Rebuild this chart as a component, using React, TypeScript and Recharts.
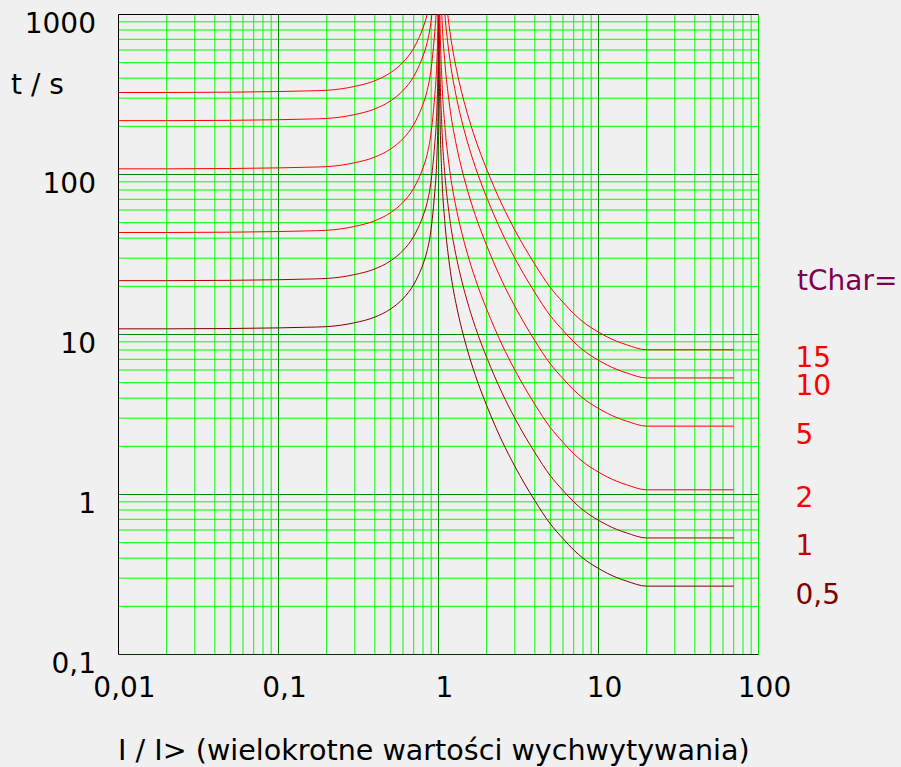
import React from "react";
import { LineChart, Line, XAxis, YAxis, ReferenceLine, ReferenceDot } from "recharts";

// I / I> values (x axis, log)
const CURRENT = [
  0.01, 0.02, 0.05, 0.1, 0.15, 0.2, 0.3, 0.4, 0.5, 0.6, 0.7, 0.75, 0.8, 0.85, 0.9, 0.93, 0.95, 0.966, 0.98, 0.99, 0.995, 0.999,
  1.001, 1.005, 1.01, 1.02, 1.05, 1.1, 1.15, 1.2, 1.3, 1.4, 1.5, 1.7, 2, 2.5, 3, 4, 5, 6, 7, 8, 10, 13, 15, 20, 70,
];

// t / s for each tChar curve
const T_CHAR_05 = [
  10.85, 10.85, 10.9, 11.0, 11.1, 11.2, 11.85, 12.85, 14.4, 16.75, 20.5, 23.5, 27.5, 33.5, 46, 62.5, 80, 100, 140, 200, 300, 1250,
  5000, 1000, 500, 250, 98.5, 48, 31.5, 23, 14.85, 10.75, 8.3, 5.55, 3.6, 2.15, 1.5, 0.915, 0.655, 0.53, 0.45, 0.4, 0.345, 0.3025, 0.2875, 0.2675, 0.2675,
];
const T_CHAR_1 = [
  21.7, 21.7, 21.8, 22.0, 22.2, 22.4, 23.7, 25.7, 28.8, 33.5, 41, 47, 55, 67, 92, 125, 160, 200, 280, 400, 600, 2500,
  10000, 2000, 1000, 500, 197, 96, 63, 46, 29.7, 21.5, 16.6, 11.1, 7.2, 4.3, 3.0, 1.83, 1.31, 1.06, 0.9, 0.8, 0.69, 0.605, 0.575, 0.535, 0.535,
];
const T_CHAR_2 = [
  43.4, 43.4, 43.6, 44, 44.4, 44.8, 47.4, 51.4, 57.6, 67, 82, 94, 110, 134, 184, 250, 320, 400, 560, 800, 1200, 5000,
  20000, 4000, 2000, 1000, 394, 192, 126, 92, 59.4, 43, 33.2, 22.2, 14.4, 8.6, 6.0, 3.66, 2.62, 2.12, 1.8, 1.6, 1.38, 1.21, 1.15, 1.07, 1.07,
];
const T_CHAR_5 = [
  108.5, 108.5, 109, 110, 111, 112, 118.5, 128.5, 144, 167.5, 205, 235, 275, 335, 460, 625, 800, 1000, 1400, 2000, 3000, 12500,
  50000, 10000, 5000, 2500, 985, 480, 315, 230, 148.5, 107.5, 83, 55.5, 36, 21.5, 15, 9.15, 6.55, 5.3, 4.5, 4.0, 3.45, 3.025, 2.875, 2.675, 2.675,
];
const T_CHAR_10 = [
  217, 217, 218, 220, 222, 224, 237, 257, 288, 335, 410, 470, 550, 670, 920, 1250, 1600, 2000, 2800, 4000, 6000, 25000,
  100000, 20000, 10000, 5000, 1970, 960, 630, 460, 297, 215, 166, 111, 72, 43, 30, 18.3, 13.1, 10.6, 9.0, 8.0, 6.9, 6.05, 5.75, 5.35, 5.35,
];
const T_CHAR_15 = [
  325.5, 325.5, 327, 330, 333, 336, 355.5, 385.5, 432, 502.5, 615, 705, 825, 1005, 1380, 1875, 2400, 3000, 4200, 6000, 9000, 37500,
  150000, 30000, 15000, 7500, 2955, 1440, 945, 690, 445.5, 322.5, 249, 166.5, 108, 64.5, 45, 27.45, 19.65, 15.9, 13.5, 12.0, 10.35, 9.075, 8.625, 8.025, 8.025,
];

const SERIES_KEYS = ["t05", "t1", "t2", "t5", "t10", "t15"];
const SERIES_VALUES = [T_CHAR_05, T_CHAR_1, T_CHAR_2, T_CHAR_5, T_CHAR_10, T_CHAR_15];
const SERIES_LABELS = ["0,5", "1", "2", "5", "10", "15"];
const SERIES_COLORS = ["#800000", "#b00000", "#ff0000", "#ff0000", "#ff0000", "#ff0000"];
const LABEL_COLORS = ["#800000", "#c00000", "#ff0000", "#ff0000", "#ff0000", "#ff0000"];

const X_TICKS = [0.01, 0.1, 1, 10, 100];
const X_TICK_LABELS = ["0,01", "0,1", "1", "10", "100"];
const Y_TICKS = [0.1, 1, 10, 100, 1000];
const Y_TICK_LABELS = ["0,1", "1", "10", "100", "1000"];

const X_MINOR = [
  0.02, 0.03, 0.04, 0.05, 0.06, 0.07, 0.08, 0.09,
  0.2, 0.3, 0.4, 0.5, 0.6, 0.7, 0.8, 0.9,
  2, 3, 4, 5, 6, 7, 8, 9,
  20, 30, 40, 50, 60, 70, 80, 90,
];
const Y_MINOR = [
  0.2, 0.3, 0.4, 0.5, 0.6, 0.7, 0.8, 0.9,
  2, 3, 4, 5, 6, 7, 8, 9,
  20, 30, 40, 50, 60, 70, 80, 90,
  200, 300, 400, 500, 600, 700, 800, 900,
];
const X_MAJOR = [0.1, 1, 10];
const Y_MAJOR = [1, 10, 100];

const X_TITLE = "I / I> (wielokrotne wartości wychwytywania)";
const Y_TITLE = "t / s";
const LEGEND_TITLE = "tChar=";

const FONT = "DejaVu Sans";

const data = CURRENT.map((I, i) => {
  const row: Record<string, number> = { I };
  SERIES_KEYS.forEach((k, s) => {
    row[k] = SERIES_VALUES[s][i];
  });
  return row;
});

const XTick = (props: any) => {
  const { x, y, payload } = props;
  const i = X_TICKS.indexOf(payload.value);
  return (
    <text x={x + 6} y={y + 42.5} textAnchor="middle" fontSize={28} fontFamily={FONT} fill="#000">
      {X_TICK_LABELS[i]}
    </text>
  );
};

const YTick = (props: any) => {
  const { x, y, payload } = props;
  const i = Y_TICKS.indexOf(payload.value);
  return (
    <text x={x - 22.5} y={y + 18} textAnchor="end" fontSize={28} fontFamily={FONT} fill="#000">
      {Y_TICK_LABELS[i]}
    </text>
  );
};

export default function App() {
  return (
    <div
      style={{
        position: "absolute",
        left: 0,
        top: 0,
        width: 901,
        height: 767,
        background: "#f0f0f0",
        fontFamily: FONT,
        overflow: "hidden",
      }}
    >
      <LineChart
        width={901}
        height={767}
        data={data}
        margin={{ top: 14.5, right: 142.5, bottom: 111.5, left: 117.5 }}
      >
        <XAxis
          dataKey="I"
          type="number"
          scale="log"
          domain={[0.01, 100]}
          ticks={X_TICKS}
          interval={0}
          allowDataOverflow
          axisLine={false}
          tickLine={false}
          tickSize={0}
          tickMargin={0}
          height={1}
          tick={XTick}
        />
        <YAxis
          type="number"
          scale="log"
          domain={[0.1, 1000]}
          ticks={Y_TICKS}
          interval={0}
          allowDataOverflow
          axisLine={false}
          tickLine={false}
          tickSize={0}
          tickMargin={0}
          width={1}
          tick={YTick}
        />
        {X_MINOR.map((v) => (
          <ReferenceLine key={"xm" + v} x={v} stroke="#00ff00" strokeWidth={1} />
        ))}
        {Y_MINOR.map((v) => (
          <ReferenceLine key={"ym" + v} y={v} stroke="#00ff00" strokeWidth={1} />
        ))}
        {X_MAJOR.map((v) => (
          <ReferenceLine key={"xM" + v} x={v} stroke="#008800" strokeWidth={1} />
        ))}
        {Y_MAJOR.map((v) => (
          <ReferenceLine key={"yM" + v} y={v} stroke="#008800" strokeWidth={1} />
        ))}
        <ReferenceLine x={100} stroke="#00ee00" strokeWidth={1} />
        <ReferenceLine y={0.1} stroke="#003300" strokeWidth={1} />
        <ReferenceLine x={0.01} stroke="#000000" strokeWidth={1} />
        <ReferenceLine y={1000} stroke="#000000" strokeWidth={1} />
        {SERIES_KEYS.map((k, s) => (
          <Line
            key={k}
            dataKey={k}
            type="monotone"
            stroke={SERIES_COLORS[s]}
            strokeWidth={1}
            dot={false}
            activeDot={false}
            isAnimationActive={false}
          />
        ))}
        {SERIES_KEYS.map((k, s) => {
          const vals = SERIES_VALUES[s];
          return (
            <ReferenceDot
              key={"lbl" + k}
              x={100}
              y={vals[vals.length - 1]}
              r={0}
              ifOverflow="visible"
              shape={(p: any) => (
                <text
                  x={p.cx + 37}
                  y={p.cy + 17.5}
                  textAnchor="start"
                  fontSize={28}
                  fontFamily={FONT}
                  fill={LABEL_COLORS[s]}
                >
                  {SERIES_LABELS[s]}
                </text>
              )}
            />
          );
        })}
      </LineChart>
      <svg
        width={901}
        height={767}
        style={{ position: "absolute", left: 0, top: 0, pointerEvents: "none" }}
      >
        <text x={11} y={94} fontSize={28} fontFamily={FONT} fill="#000">
          {Y_TITLE}
        </text>
        <text x={797} y={290} fontSize={28} fontFamily={FONT} fill="#800050">
          {LEGEND_TITLE}
        </text>
        <text x={118} y={760} fontSize={28.6} fontFamily={FONT} fill="#000">
          {X_TITLE}
        </text>
      </svg>
    </div>
  );
}
